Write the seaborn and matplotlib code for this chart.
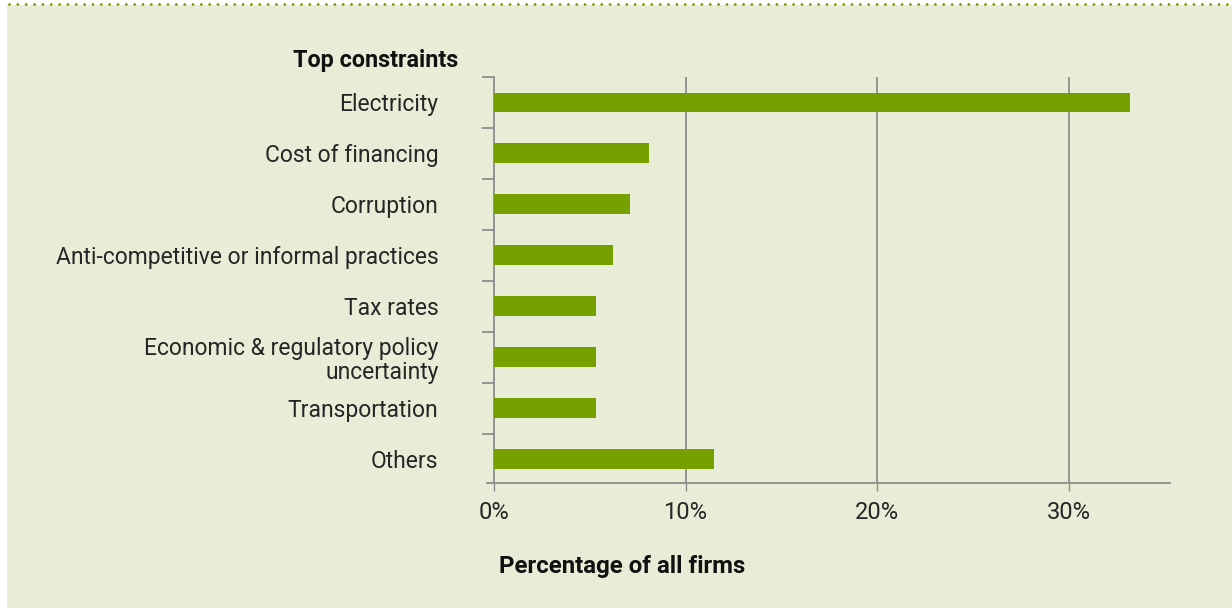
import matplotlib
matplotlib.use("Agg")
import matplotlib.pyplot as plt
from matplotlib.lines import Line2D
from matplotlib.patches import Rectangle
from matplotlib.ticker import FixedLocator, FuncFormatter
import seaborn as sns

categories = [
    "Electricity",
    "Cost of financing",
    "Corruption",
    "Anti-competitive or informal practices",
    "Tax rates",
    "Economic & regulatory policy\nuncertainty",
    "Transportation",
    "Others",
]
share_pct = [33.2, 8.1, 7.1, 6.2, 5.3, 5.3, 5.3, 11.5]
x_ticks = [0, 10, 20, 30]

BG = "#E9EDD7"
BAR = "#76A000"
GRID = "#8E8E8E"
TEXT = "#262626"

sns.set_theme(style="white")
plt.rcParams["font.family"] = ["Roboto", "DejaVu Sans"]

fig = plt.figure(figsize=(12.32, 6.08), dpi=100, facecolor="white")

# panel background and dotted rule along the top
fig.patches.append(Rectangle((7 / 1232, 0), 1 - 7 / 1232, 1 - 5 / 608,
                             transform=fig.transFigure, facecolor=BG,
                             edgecolor="none", zorder=-10))
fig.lines.append(Line2D([9 / 1232, 1], [1 - 4 / 608, 1 - 4 / 608],
                        transform=fig.transFigure, color=BAR, lw=2.1,
                        linestyle=(0, (0.01, 2.85)), dash_capstyle="round",
                        zorder=-5))

ax = fig.add_axes([487 / 1232, 1 - 483 / 608, (1170 - 487) / 1232, (483 - 77) / 608])
ax.set_facecolor("none")

sns.barplot(x=share_pct, y=categories, color=BAR, saturation=1,
            width=0.39, orient="h", ax=ax, zorder=3, linewidth=0)

ax.set_xlim(-0.37, 35.3)
ax.set_ylim(7.47, -0.5)

for s in ["top", "right"]:
    ax.spines[s].set_visible(False)
ax.spines["left"].set_position(("data", 0))
for s in ["left", "bottom"]:
    ax.spines[s].set_color(GRID)
    ax.spines[s].set_linewidth(1.3)

ax.xaxis.set_major_locator(FixedLocator(x_ticks))
ax.xaxis.set_major_formatter(FuncFormatter(lambda v, p: f"{v:.0f}%"))
ax.tick_params(axis="x", direction="out", length=6, width=1, color=GRID,
               pad=7, labelsize=17, labelcolor=TEXT, bottom=True)
for xv in x_ticks[1:]:
    ax.axvline(xv, color=GRID, lw=1.3, zorder=1)

ax.yaxis.set_minor_locator(FixedLocator([i - 0.5 for i in range(len(categories))]))
ax.tick_params(axis="y", which="major", length=0, pad=40, labelsize=16.5,
               labelcolor=TEXT)
ax.tick_params(axis="y", which="minor", direction="out", length=9, width=1.3,
               color=GRID, left=True)
for lbl in ax.get_yticklabels():
    lbl.set_horizontalalignment("right")
    lbl.set_linespacing(1.05)

ax.set_xlabel("")
ax.set_ylabel("")

fig.text(458 / 1232, 1 - 60 / 608, "Top constraints", ha="right", va="center",
         fontsize=16.8, fontweight="bold", color="#111111")
fig.text(622 / 1232, 1 - 566 / 608, "Percentage of all firms", ha="center",
         va="center", fontsize=17.3, fontweight="bold", color="#111111")

fig.savefig("out.png", dpi=100, facecolor="white")
